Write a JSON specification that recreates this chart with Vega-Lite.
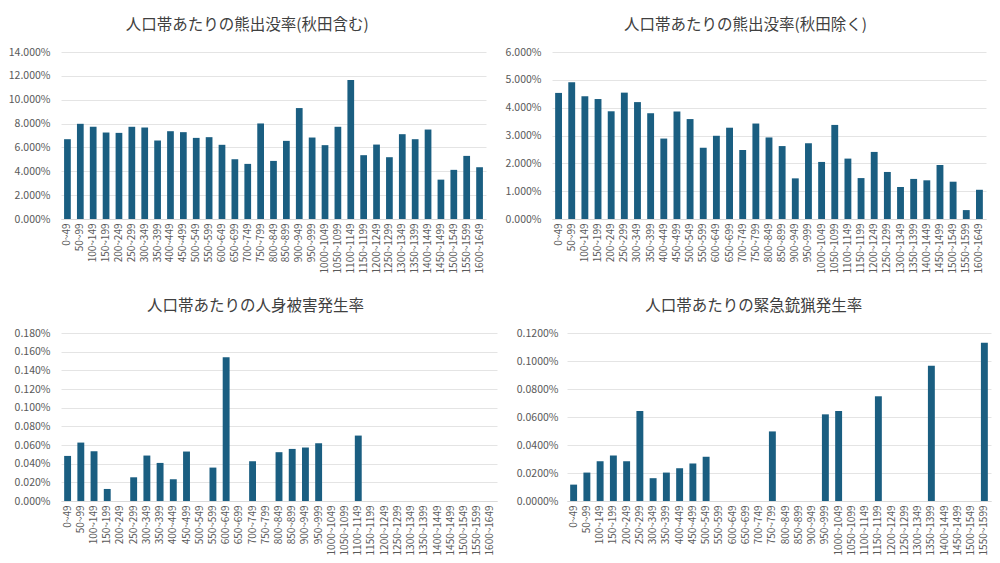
{
  "$schema": "https://vega.github.io/schema/vega-lite/v6.json",
  "background": "white",
  "padding": {"left": 8, "top": 17, "right": 4, "bottom": 5},
  "datasets": {
    "akita_in": [
      {"range": "0~49", "rate": 0.0669},
      {"range": "50~99", "rate": 0.0798},
      {"range": "100~149", "rate": 0.0773},
      {"range": "150~199", "rate": 0.0725},
      {"range": "200~249", "rate": 0.0722},
      {"range": "250~299", "rate": 0.0773},
      {"range": "300~349", "rate": 0.0767},
      {"range": "350~399", "rate": 0.0658},
      {"range": "400~449", "rate": 0.0736},
      {"range": "450~499", "rate": 0.0728},
      {"range": "500~549", "rate": 0.0680},
      {"range": "550~599", "rate": 0.0686},
      {"range": "600~649", "rate": 0.0622},
      {"range": "650~699", "rate": 0.0501},
      {"range": "700~749", "rate": 0.0462},
      {"range": "750~799", "rate": 0.0801},
      {"range": "800~849", "rate": 0.0487},
      {"range": "850~899", "rate": 0.0655},
      {"range": "900~949", "rate": 0.0930},
      {"range": "950~999", "rate": 0.0683},
      {"range": "1000~1049", "rate": 0.0619},
      {"range": "1050~1099", "rate": 0.0773},
      {"range": "1100~1149", "rate": 0.1165},
      {"range": "1150~1199", "rate": 0.0535},
      {"range": "1200~1249", "rate": 0.0624},
      {"range": "1250~1299", "rate": 0.0518},
      {"range": "1300~1349", "rate": 0.0711},
      {"range": "1350~1399", "rate": 0.0669},
      {"range": "1400~1449", "rate": 0.0750},
      {"range": "1450~1499", "rate": 0.0330},
      {"range": "1500~1549", "rate": 0.0412},
      {"range": "1550~1599", "rate": 0.0529},
      {"range": "1600~1649", "rate": 0.0434}
    ],
    "akita_out": [
      {"range": "0~49", "rate": 0.0453},
      {"range": "50~99", "rate": 0.0491},
      {"range": "100~149", "rate": 0.0441},
      {"range": "150~199", "rate": 0.0431},
      {"range": "200~249", "rate": 0.0387},
      {"range": "250~299", "rate": 0.0454},
      {"range": "300~349", "rate": 0.0420},
      {"range": "350~399", "rate": 0.0380},
      {"range": "400~449", "rate": 0.0289},
      {"range": "450~499", "rate": 0.0386},
      {"range": "500~549", "rate": 0.0359},
      {"range": "550~599", "rate": 0.0256},
      {"range": "600~649", "rate": 0.0299},
      {"range": "650~699", "rate": 0.0328},
      {"range": "700~749", "rate": 0.0248},
      {"range": "750~799", "rate": 0.0343},
      {"range": "800~849", "rate": 0.0293},
      {"range": "850~899", "rate": 0.0262},
      {"range": "900~949", "rate": 0.0146},
      {"range": "950~999", "rate": 0.0272},
      {"range": "1000~1049", "rate": 0.0205},
      {"range": "1050~1099", "rate": 0.0338},
      {"range": "1100~1149", "rate": 0.0217},
      {"range": "1150~1199", "rate": 0.0147},
      {"range": "1200~1249", "rate": 0.0241},
      {"range": "1250~1299", "rate": 0.0169},
      {"range": "1300~1349", "rate": 0.0115},
      {"range": "1350~1399", "rate": 0.0144},
      {"range": "1400~1449", "rate": 0.0139},
      {"range": "1450~1499", "rate": 0.0194},
      {"range": "1500~1549", "rate": 0.0134},
      {"range": "1550~1599", "rate": 0.0032},
      {"range": "1600~1649", "rate": 0.0105}
    ],
    "injury": [
      {"range": "0~49", "rate": 0.000483},
      {"range": "50~99", "rate": 0.000626},
      {"range": "100~149", "rate": 0.000533},
      {"range": "150~199", "rate": 0.000129},
      {"range": "200~249", "rate": 0},
      {"range": "250~299", "rate": 0.000254},
      {"range": "300~349", "rate": 0.000487},
      {"range": "350~399", "rate": 0.000408},
      {"range": "400~449", "rate": 0.000233},
      {"range": "450~499", "rate": 0.000530},
      {"range": "500~549", "rate": 0},
      {"range": "550~599", "rate": 0.000358},
      {"range": "600~649", "rate": 0.001539},
      {"range": "650~699", "rate": 0},
      {"range": "700~749", "rate": 0.000426},
      {"range": "750~799", "rate": 0},
      {"range": "800~849", "rate": 0.000523},
      {"range": "850~899", "rate": 0.000558},
      {"range": "900~949", "rate": 0.000573},
      {"range": "950~999", "rate": 0.000619},
      {"range": "1000~1049", "rate": 0},
      {"range": "1050~1099", "rate": 0},
      {"range": "1100~1149", "rate": 0.000701},
      {"range": "1150~1199", "rate": 0},
      {"range": "1200~1249", "rate": 0},
      {"range": "1250~1299", "rate": 0},
      {"range": "1300~1349", "rate": 0},
      {"range": "1350~1399", "rate": 0},
      {"range": "1400~1449", "rate": 0},
      {"range": "1450~1499", "rate": 0},
      {"range": "1500~1549", "rate": 0},
      {"range": "1550~1599", "rate": 0},
      {"range": "1600~1649", "rate": 0}
    ],
    "hunt": [
      {"range": "0~49", "rate": 0.000117},
      {"range": "50~99", "rate": 0.000203},
      {"range": "100~149", "rate": 0.000284},
      {"range": "150~199", "rate": 0.000325},
      {"range": "200~249", "rate": 0.000284},
      {"range": "250~299", "rate": 0.000643},
      {"range": "300~349", "rate": 0.000163},
      {"range": "350~399", "rate": 0.000203},
      {"range": "400~449", "rate": 0.000234},
      {"range": "450~499", "rate": 0.000268},
      {"range": "500~549", "rate": 0.000316},
      {"range": "550~599", "rate": 0},
      {"range": "600~649", "rate": 0},
      {"range": "650~699", "rate": 0},
      {"range": "700~749", "rate": 0},
      {"range": "750~799", "rate": 0.000497},
      {"range": "800~849", "rate": 0},
      {"range": "850~899", "rate": 0},
      {"range": "900~949", "rate": 0},
      {"range": "950~999", "rate": 0.000619},
      {"range": "1000~1049", "rate": 0.000643},
      {"range": "1050~1099", "rate": 0},
      {"range": "1100~1149", "rate": 0},
      {"range": "1150~1199", "rate": 0.000748},
      {"range": "1200~1249", "rate": 0},
      {"range": "1250~1299", "rate": 0},
      {"range": "1300~1349", "rate": 0},
      {"range": "1350~1399", "rate": 0.000966},
      {"range": "1400~1449", "rate": 0},
      {"range": "1450~1499", "rate": 0},
      {"range": "1500~1549", "rate": 0},
      {"range": "1550~1599", "rate": 0.001131}
    ]
  },
  "spacing": 25,
  "vconcat": [
    {
      "spacing": 19,
      "hconcat": [
        {
          "width": 425,
          "height": 167,
          "title": "人口帯あたりの熊出没率(秋田含む)",
          "data": {"name": "akita_in"},
          "mark": {"type": "bar", "color": "#1a5e81", "width": {"band": 0.58}},
          "encoding": {
            "x": {"field": "range", "type": "nominal", "sort": null, "title": null},
            "y": {
              "field": "rate", "type": "quantitative", "title": null,
              "scale": {"domain": [0, 0.14]},
              "axis": {"format": ".3%", "values": [0, 0.02, 0.04, 0.06, 0.08, 0.1, 0.12, 0.14]}
            }
          }
        },
        {
          "width": 434,
          "height": 167,
          "title": "人口帯あたりの熊出没率(秋田除く)",
          "data": {"name": "akita_out"},
          "mark": {"type": "bar", "color": "#1a5e81", "width": {"band": 0.58}},
          "encoding": {
            "x": {"field": "range", "type": "nominal", "sort": null, "title": null},
            "y": {
              "field": "rate", "type": "quantitative", "title": null,
              "scale": {"domain": [0, 0.06]},
              "axis": {"format": ".3%", "values": [0, 0.01, 0.02, 0.03, 0.04, 0.05, 0.06]}
            }
          }
        }
      ]
    },
    {
      "spacing": 19,
      "hconcat": [
        {
          "width": 436,
          "height": 168,
          "title": "人口帯あたりの人身被害発生率",
          "data": {"name": "injury"},
          "mark": {"type": "bar", "color": "#1a5e81", "width": {"band": 0.58}},
          "encoding": {
            "x": {"field": "range", "type": "nominal", "sort": null, "title": null},
            "y": {
              "field": "rate", "type": "quantitative", "title": null,
              "scale": {"domain": [0, 0.0018]},
              "axis": {"format": ".3%", "values": [0, 0.0002, 0.0004, 0.0006, 0.0008, 0.001, 0.0012, 0.0014, 0.0016, 0.0018]}
            }
          }
        },
        {
          "width": 424,
          "height": 168,
          "title": "人口帯あたりの緊急銃猟発生率",
          "data": {"name": "hunt"},
          "mark": {"type": "bar", "color": "#1a5e81", "width": {"band": 0.58}},
          "encoding": {
            "x": {"field": "range", "type": "nominal", "sort": null, "title": null},
            "y": {
              "field": "rate", "type": "quantitative", "title": null,
              "scale": {"domain": [0, 0.0012]},
              "axis": {"format": ".4%", "values": [0, 0.0002, 0.0004, 0.0006, 0.0008, 0.001, 0.0012], "labelPadding": 9}
            }
          }
        }
      ]
    }
  ],
  "config": {
    "font": "Noto Sans CJK JP",
    "view": {"stroke": null},
    "title": {
      "fontSize": 15.5,
      "fontWeight": "normal",
      "color": "#404040",
      "anchor": "middle",
      "frame": "bounds",
      "offset": 14
    },
    "axisY": {
      "domain": false,
      "ticks": false,
      "grid": true,
      "gridColor": "#e4e4e4",
      "labelColor": "#595959",
      "labelFontSize": 10.5,
      "labelPadding": 11
    },
    "axisX": {
      "domainColor": "#d9d9d9",
      "ticks": false,
      "grid": false,
      "labelAngle": -90,
      "labelColor": "#595959",
      "labelFontSize": 10,
      "labelPadding": 4
    }
  }
}
